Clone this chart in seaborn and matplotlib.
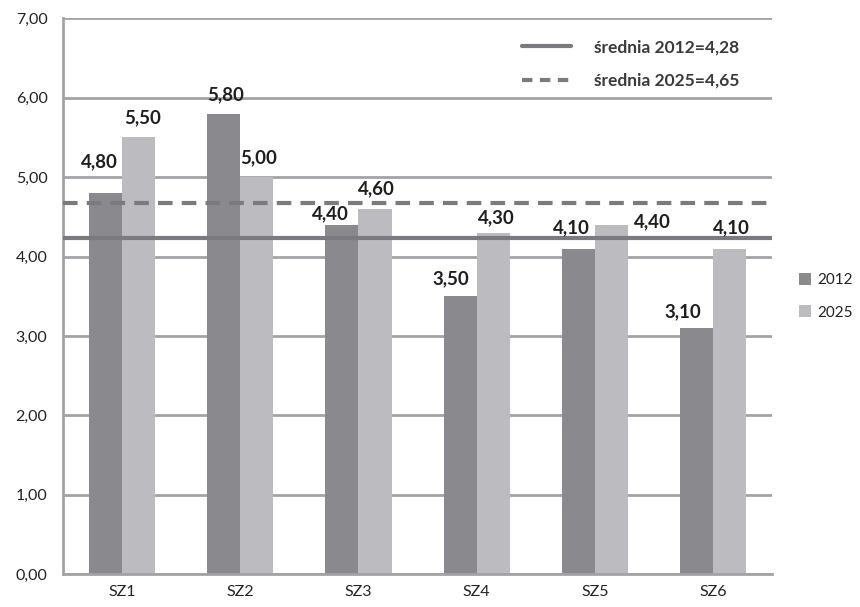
import matplotlib.pyplot as plt
import matplotlib.ticker as mticker
from matplotlib.lines import Line2D
import seaborn as sns
import pandas as pd

categories = ['SZ1', 'SZ2', 'SZ3', 'SZ4', 'SZ5', 'SZ6']
years = ['2012', '2025']
values_2012 = [4.80, 5.80, 4.40, 3.50, 4.10, 3.10]
values_2025 = [5.50, 5.00, 4.60, 4.30, 4.40, 4.10]
avg_labels = ['średnia 2012=4,28', 'średnia 2025=4,65']
# where the average lines sit in the picture
avg_lines = [4.23, 4.67]

# label nudges (pixels) as placed in the original
label_off = {
    '2012': [(-6, 31), (2, 19), (-11, 11), (-9, 17), (-7, 21), (-14, 16)],
    '2025': [(4, 20), (2, 19), (1, 20), (3, 15), (41, 3), (2, 21)],
}

df = pd.DataFrame({
    'kat': categories * 2,
    'rok': [years[0]] * 6 + [years[1]] * 6,
    'wartosc': values_2012 + values_2025,
})

sns.set_style('white')
plt.rcParams['font.family'] = ['Lato', 'DejaVu Sans']

fig, ax = plt.subplots(figsize=(8.6, 6.07), dpi=100)
fig.subplots_adjust(left=0.073, right=0.898, top=0.97, bottom=0.054)

colors = ['#8a8a8e', '#bcbcc0']
sns.barplot(data=df, x='kat', y='wartosc', hue='rok', palette=colors,
            width=0.56, saturation=1, linewidth=0, ax=ax, zorder=2)

for cont, yr in zip(ax.containers, years):
    for bar, v, (dx, dy) in zip(cont, cont.datavalues, label_off[yr]):
        ax.annotate(f'{v:.2f}'.replace('.', ','),
                    (bar.get_x() + bar.get_width() / 2, bar.get_height()),
                    xytext=(dx, dy), textcoords='offset pixels',
                    ha='center', va='center', fontsize=13.5,
                    fontweight='bold', color='#1e1e1e', zorder=5)

line_col = '#7b7b7f'
ax.axhline(avg_lines[0], color=line_col, lw=3, zorder=3)
ax.axhline(avg_lines[1], color=line_col, lw=3, ls=(0, (3.5, 2.2)), zorder=3)

ax.set_ylim(0, 7)
ax.set_xlim(-0.5, 5.5)
ax.yaxis.set_major_locator(mticker.MultipleLocator(1))
ax.yaxis.set_major_formatter(mticker.FuncFormatter(lambda v, p: f'{v:.2f}'.replace('.', ',')))
ax.grid(axis='y', color='#a3a3a7', lw=2, zorder=0)
ax.set_axisbelow(True)

ax.set_xlabel('')
ax.set_ylabel('')
for s in ['top', 'right']:
    ax.spines[s].set_visible(False)
for s in ['left', 'bottom']:
    ax.spines[s].set_color('#a3a3a7')
    ax.spines[s].set_linewidth(2)

ax.set_xticks([i - 0.5 for i in range(7)], minor=True)
ax.tick_params(axis='x', which='major', length=0, pad=8, labelsize=11.5, labelcolor='#222222')
ax.tick_params(axis='x', which='minor', length=5, width=2, color='#a3a3a7')
ax.tick_params(axis='y', length=5, width=2, color='#a3a3a7', labelsize=11.5,
               labelcolor='#222222', pad=6)

leg = ax.legend(loc='center left', bbox_to_anchor=(1.038, 0.5), frameon=False,
                fontsize=11, handlelength=0.8, handleheight=0.8,
                handletextpad=0.4, labelspacing=1.2, borderaxespad=0, borderpad=0)
for t in leg.get_texts():
    t.set_color('#222222')
ax.add_artist(leg)

handles = [Line2D([], [], color=line_col, lw=3),
           Line2D([], [], color=line_col, lw=3, ls=(0, (2.5, 1.8)))]
leg2 = ax.legend(handles, avg_labels, loc='upper right', bbox_to_anchor=(0.975, 0.99),
                 frameon=False, handlelength=2.8, handletextpad=1.3,
                 labelspacing=1.0, prop={'weight': 'bold', 'size': 12.5})
for t in leg2.get_texts():
    t.set_color('#3a3a3a')

fig.savefig('out.png', dpi=100, facecolor='white')
